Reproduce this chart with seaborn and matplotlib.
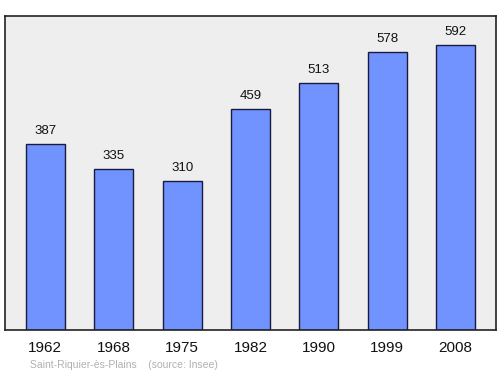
import matplotlib
matplotlib.use("Agg")
import matplotlib.pyplot as plt
import seaborn as sns
import pandas as pd

years = ["1962", "1968", "1975", "1982", "1990", "1999", "2008"]
population = [387, 335, 310, 459, 513, 578, 592]
source_text = "Saint-Riquier-ès-Plains    (source: Insee)"

sns.set_theme(style="white")
plt.rcParams['font.family'] = ['Liberation Sans', 'DejaVu Sans']

df = pd.DataFrame({"year": years, "pop": population})

fig = plt.figure(figsize=(5, 3.74), dpi=100)
ax = fig.add_axes([0.01, 0.1176, 0.982, 0.8396])
ax.set_facecolor("#eeeeee")

sns.barplot(data=df, x="year", y="pop", ax=ax, color="#7093ff", saturation=1,
            width=0.57, edgecolor="#1a1a40", linewidth=1)

for i, v in enumerate(population):
    ax.annotate(str(v), (i, v), xytext=(0, 5), textcoords="offset points",
                ha="center", va="bottom", fontsize=9.5, color="#111111")

ax.set_xlim(-0.59, 6.59)
ax.set_ylim(0, 652)
ax.set_yticks([])
ax.set_xlabel("")
ax.set_ylabel("")
ax.tick_params(axis="x", length=0, labelsize=11, pad=8, colors="#111111")
for s in ax.spines.values():
    s.set_color("#222222")
    s.set_linewidth(1.2)

fig.text(30/500, 1-365/374, source_text, fontsize=7.5, color="#b0b0b0", va="center", ha="left")

fig.savefig("out.png", dpi=100, facecolor="white")
